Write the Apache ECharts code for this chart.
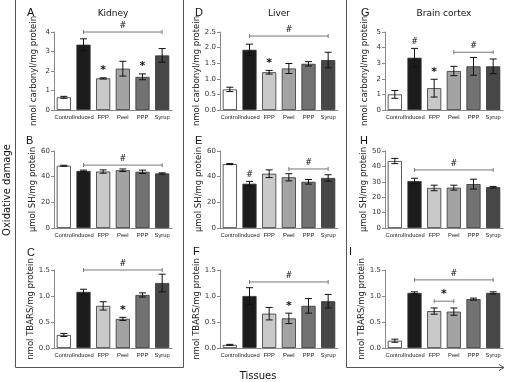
<!DOCTYPE html>
<html>
<head>
<meta charset="utf-8">
<script src="https://cdn.jsdelivr.net/npm/echarts@6/dist/echarts.min.js"></script>
<style>
html,body{margin:0;padding:0;background:#fff;}
#chart{width:506px;height:382px;}
</style>
</head>
<body>
<div id="chart"></div>
<script>
// groups on every x axis
var groups = ['Control', 'Induced', 'FPP', 'Peel', 'PPP', 'Syrup']

// values and error (SEM) per panel
var kidneyCarbonyl = [0.65, 3.35, 1.62, 2.12, 1.7, 2.8]
var kidneyCarbonylErr = [0.05, 0.3, 0.03, 0.38, 0.15, 0.35]
var liverCarbonyl = [0.66, 1.93, 1.21, 1.33, 1.48, 1.6]
var liverCarbonylErr = [0.07, 0.18, 0.06, 0.16, 0.07, 0.25]
var brainCarbonyl = [1.0, 3.35, 1.4, 2.5, 2.8, 2.8]
var brainCarbonylErr = [0.25, 0.6, 0.57, 0.3, 0.57, 0.47]

var kidneySH = [48.5, 44.5, 44, 45, 43.8, 42.5]
var kidneySHErr = [0.4, 0.6, 1.3, 1.0, 1.3, 0.5]
var liverSH = [49.8, 34.5, 42.3, 39.5, 36, 39]
var liverSHErr = [0.4, 1.8, 3, 2.8, 1.8, 2.5]
var brainSH = [43.5, 30.5, 26, 26.2, 28.5, 26.5]
var brainSHErr = [1.7, 1.8, 1.8, 1.6, 3.2, 0.5]

var kidneyTBARS = [0.25, 1.08, 0.81, 0.56, 1.02, 1.25]
var kidneyTBARSErr = [0.03, 0.05, 0.08, 0.03, 0.04, 0.17]
var liverTBARS = [0.06, 1.0, 0.66, 0.57, 0.81, 0.9]
var liverTBARSErr = [0.01, 0.16, 0.12, 0.1, 0.14, 0.13]
var brainTBARS = [0.14, 1.06, 0.71, 0.7, 0.94, 1.06]
var brainTBARSErr = [0.03, 0.02, 0.06, 0.07, 0.02, 0.02]

// axis tops and steps
var axisMax = [4, 2.5, 5, 60, 60, 50, 1.5, 1.5, 1.5]
var axisStep = [1, 0.5, 1, 20, 20, 10, 0.5, 0.5, 0.5]

// significance signs over single bars: [group index, sign]
var signsA = [[2, '*'], [4, '*']]
var signsD = [[2, '*']]
var signsG = [[1, '#'], [2, '*']]
var signsB = []
var signsE = [[1, '#']]
var signsH = []
var signsC = [[3, '*']]
var signsF = [[3, '*']]
var signsI = []

// brackets: [from index, to index, level, sign]
var bracketsA = [[1, 5, 4.0, '#']]
var bracketsD = [[1, 5, 2.37, '#']]
var bracketsG = [[3, 5, 3.7, '#']]
var bracketsB = [[1, 5, 49, '#']]
var bracketsE = [[3, 5, 46, '#']]
var bracketsH = [[1, 5, 37.7, '#']]
var bracketsC = [[1, 5, 1.5, '#']]
var bracketsF = [[1, 5, 1.27, '#']]
var bracketsI = [[1, 5, 1.31, '#'], [2, 3, 0.9, '*']]

var letters = ['A', 'D', 'G', 'B', 'E', 'H', 'C', 'F', 'I']
var tissues = ['Kidney', 'Liver', 'Brain cortex']
var yNames = ['nmol carbonyl/mg protein', 'µmol SH/mg protein', 'nmol TBARS/mg protein']

var panels = [
    {v: kidneyCarbonyl, e: kidneyCarbonylErr, s: signsA, b: bracketsA},
    {v: liverCarbonyl, e: liverCarbonylErr, s: signsD, b: bracketsD},
    {v: brainCarbonyl, e: brainCarbonylErr, s: signsG, b: bracketsG},
    {v: kidneySH, e: kidneySHErr, s: signsB, b: bracketsB},
    {v: liverSH, e: liverSHErr, s: signsE, b: bracketsE},
    {v: brainSH, e: brainSHErr, s: signsH, b: bracketsH},
    {v: kidneyTBARS, e: kidneyTBARSErr, s: signsC, b: bracketsC},
    {v: liverTBARS, e: liverTBARSErr, s: signsF, b: bracketsF},
    {v: brainTBARS, e: brainTBARSErr, s: signsI, b: bracketsI}
]

var barColors = ['#ffffff', '#1c1c1c', '#c9c9c9', '#a3a3a3', '#727272', '#474747']
var font = 'DejaVu Sans, Verdana, sans-serif'

var colLeft = [54, 220, 385]
var rowTop = [32, 151, 270]
var rowH = [78, 77, 78]
var gridW = 118
var letterXY = [[27, 12.5], [195, 12.5], [361, 12.5], [26, 140.5], [195, 140.5], [360, 140.5],
    [27, 253], [193, 252], [349, 252]]

var grids = [], xAxes = [], yAxes = [], series = [], graphics = []

for (let i = 0; i < 9; i++) {
    let col = i % 3, row = Math.floor(i / 3)
    let p = panels[i]
    grids.push({left: colLeft[col], top: rowTop[row], width: gridW, height: rowH[row]})
    xAxes.push({
        type: 'category', gridIndex: i, data: groups,
        axisLine: {lineStyle: {color: '#8a8a8a', width: 1}},
        axisTick: {show: false},
        axisLabel: {interval: 0, fontSize: 5.8, fontFamily: 'Liberation Sans, Arial, sans-serif',
            color: '#222', margin: 4, width: 40, overflow: 'none', hideOverlap: false}
    })
    yAxes.push({
        type: 'value', gridIndex: i, min: 0, max: axisMax[i], interval: axisStep[i],
        name: yNames[row], nameLocation: 'middle', nameGap: 16,
        nameTextStyle: {fontSize: 8.5, fontFamily: font, color: '#222'},
        axisLine: {show: true, lineStyle: {color: '#8a8a8a', width: 1}},
        axisTick: {show: true, length: 3, lineStyle: {color: '#8a8a8a'}},
        axisLabel: {fontSize: 7, fontFamily: font, color: '#333', margin: 4,
            formatter: function (v) { return axisStep[i] < 1 ? v.toFixed(1) : String(v) }},
        splitLine: {show: false}
    })

    series.push({
        type: 'bar', xAxisIndex: i, yAxisIndex: i, barCategoryGap: '28%',
        data: p.v.map(function (v, k) {
            return {value: v, itemStyle: {color: barColors[k]}}
        }),
        itemStyle: {borderColor: '#333', borderWidth: 0.8},
        silent: true
    })

    // error bars
    series.push({
        type: 'custom', xAxisIndex: i, yAxisIndex: i, silent: true, z: 5,
        data: p.v.map(function (v, k) { return [k, v - p.e[k], v + p.e[k]] }),
        encode: {x: 0, y: [1, 2]},
        renderItem: function (params, api) {
            let lo = api.coord([api.value(0), api.value(1)])
            let hi = api.coord([api.value(0), api.value(2)])
            let w = 3.5
            let st = {stroke: '#111', lineWidth: 1}
            return {type: 'group', children: [
                {type: 'line', shape: {x1: hi[0], y1: hi[1], x2: lo[0], y2: lo[1]}, style: st},
                {type: 'line', shape: {x1: hi[0] - w, y1: hi[1], x2: hi[0] + w, y2: hi[1]}, style: st},
                {type: 'line', shape: {x1: lo[0] - w, y1: lo[1], x2: lo[0] + w, y2: lo[1]}, style: st}
            ]}
        }
    })

    // signs over single bars
    series.push({
        type: 'custom', xAxisIndex: i, yAxisIndex: i, silent: true, z: 6,
        data: p.s.map(function (s) { return [s[0], p.v[s[0]] + p.e[s[0]], s[1]] }),
        encode: {x: 0, y: 1},
        renderItem: function (params, api) {
            let pt = api.coord([api.value(0), api.value(1)])
            let sym = p.s[params.dataIndex][1]
            return {type: 'text', x: pt[0], y: pt[1] - 2, style: {
                text: sym, fill: '#111', font: (sym == '*' ? 'bold 11px ' : '8px ') + font,
                textAlign: 'center', textVerticalAlign: 'bottom'}}
        }
    })

    // brackets
    series.push({
        type: 'custom', xAxisIndex: i, yAxisIndex: i, silent: true, z: 6,
        data: p.b.map(function (b) { return [b[0], b[2], b[1]] }),
        encode: {x: 0, y: 1},
        renderItem: function (params, api) {
            let b = p.b[params.dataIndex]
            let a = api.coord([b[0], b[2]])
            let c = api.coord([b[1], b[2]])
            let st = {stroke: '#777', lineWidth: 1}
            return {type: 'group', children: [
                {type: 'line', shape: {x1: a[0], y1: a[1], x2: c[0], y2: c[1]}, style: st},
                {type: 'line', shape: {x1: a[0], y1: a[1] - 2, x2: a[0], y2: a[1] + 2}, style: st},
                {type: 'line', shape: {x1: c[0], y1: c[1] - 2, x2: c[0], y2: c[1] + 2}, style: st},
                {type: 'text', x: (a[0] + c[0]) / 2, y: a[1] - 2, style: {
                    text: b[3], fill: '#111', font: (b[3] == '*' ? 'bold 11px ' : '8px ') + font,
                    textAlign: 'center', textVerticalAlign: 'bottom'}}
            ]}
        }
    })

    // panel letter
    graphics.push({type: 'text', x: letterXY[i][0], y: letterXY[i][1],
        style: {text: letters[i], font: '11px Liberation Sans, Arial, sans-serif', fill: '#111',
            textAlign: 'left', textVerticalAlign: 'middle'}})
}

// tissue titles
for (let c = 0; c < 3; c++) {
    graphics.push({type: 'text', x: colLeft[c] + gridW / 2, y: 14,
        style: {text: tissues[c], font: '9px ' + font, fill: '#111',
            textAlign: 'center', textVerticalAlign: 'middle'}})
}

// frame lines and outer labels
var frame = {stroke: '#555', lineWidth: 1}
graphics.push(
    {type: 'line', shape: {x1: 15.5, y1: 0, x2: 15.5, y2: 367.5}, style: frame},
    {type: 'line', shape: {x1: 15.5, y1: 367.5, x2: 183.5, y2: 367.5}, style: frame},
    {type: 'line', shape: {x1: 183.5, y1: 0, x2: 183.5, y2: 367.5}, style: frame},
    {type: 'line', shape: {x1: 346.5, y1: 0, x2: 346.5, y2: 367.5}, style: frame},
    {type: 'line', shape: {x1: 346.5, y1: 367.5, x2: 504, y2: 367.5}, style: frame},
    {type: 'polyline', shape: {points: [[499, 364.5], [504, 367.5], [499, 370.5]]}, style: {stroke: '#555', fill: null, lineWidth: 1}},
    {type: 'text', x: 7, y: 190, rotation: Math.PI / 2,
        style: {text: 'Oxidative damage', font: '10px ' + font, fill: '#111',
            textAlign: 'center', textVerticalAlign: 'middle'}},
    {type: 'text', x: 258, y: 376,
        style: {text: 'Tissues', font: '10px ' + font, fill: '#111',
            textAlign: 'center', textVerticalAlign: 'middle'}}
)

var option = {
    animation: false,
    grid: grids,
    xAxis: xAxes,
    yAxis: yAxes,
    series: series,
    graphic: graphics
}

var myChart = echarts.init(document.getElementById('chart'), null, {renderer: 'canvas'})
myChart.setOption(option)
</script>
</body>
</html>
